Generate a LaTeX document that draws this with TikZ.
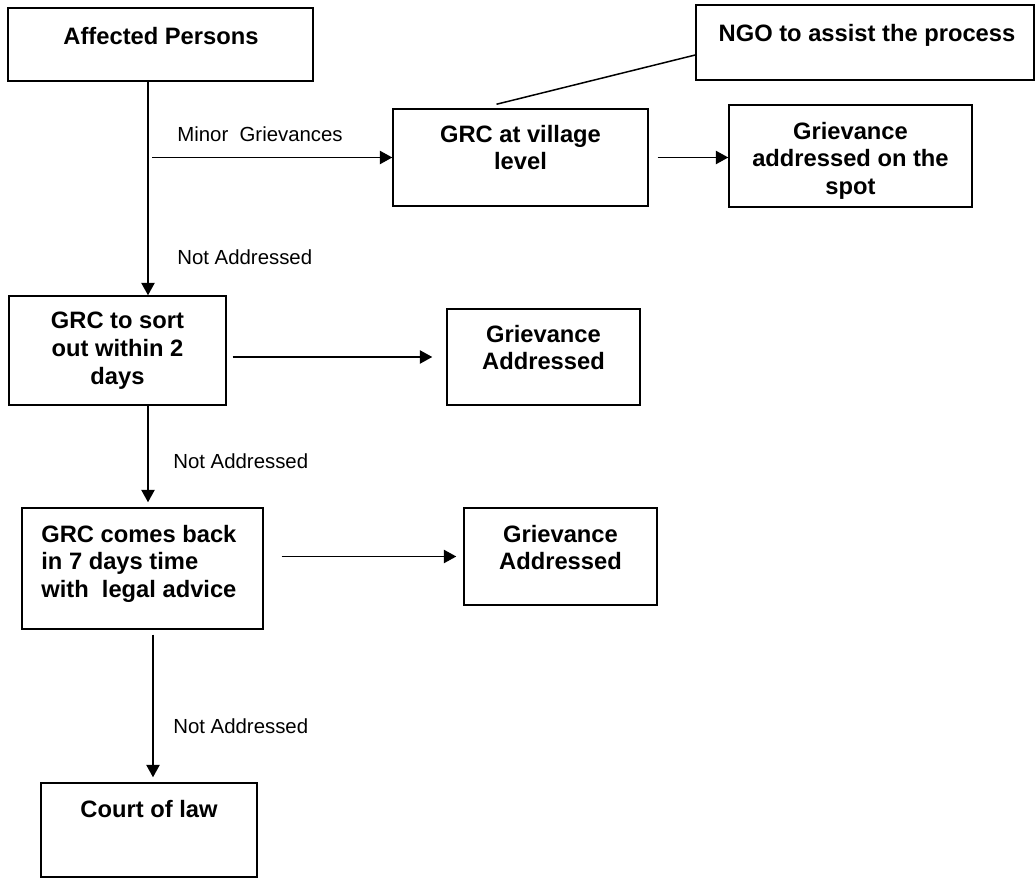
\documentclass[tikz,border=0pt]{standalone}
\usepackage{fontspec}
\setmainfont{Liberation Sans}
\usetikzlibrary{arrows.meta,calc}
\def\px{0.02cm}

\begin{document}
\begin{tikzpicture}[x=\px, y=-\px,
  box/.style={draw, line width=0.85pt, inner sep=0pt},
  sz/.style 2 args={minimum width=#1*\px, minimum height=#2*\px},
  boxtext/.style={font=\bfseries\fontsize{13.5}{15.9}\selectfont, align=center, inner sep=0pt, anchor=north},
  lbl/.style={font=\fontsize{11.6}{14}\selectfont, inner sep=0pt, anchor=base west},
  arr/.style={line width=0.85pt, -{Triangle[length=7pt,width=7.5pt]}},
  ln/.style={line width=0.85pt}]

\useasboundingbox (0,0) rectangle (1036,878);

% Affected Persons
\node[box, sz={305}{73}] (ap) at (160.5,44.5) {};
\node[boxtext] (ap text) at (161,26.5) {Affected Persons};

% NGO
\node[box, sz={338}{75}] (ngo) at (865,42.5) {};
\node[boxtext] (ngo text) at (867,23.5) {NGO to assist the process};

% GRC at village level
\node[box, sz={255}{97}] (grcv) at (520.5,157.5) {};
\node[boxtext] (grcv text) at (520.5,124.5) {GRC at village\\level};

% Addressed on the spot
\node[box, sz={243}{102}] (spot) at (850.5,156) {};
\node[boxtext] (spot text) at (850.5,121.5) {Grievance\\addressed on the\\spot};

% GRC within 2 days
\node[box, sz={217}{109}] (sort) at (117.5,350.5) {};
\node[boxtext] (sort text) at (117.5,311.5) {GRC to sort\\out within 2\\days};

\node[box, sz={193}{96}] (ga1) at (543.5,357) {};
\node[boxtext] (ga1 text) at (543.5,324.5) {Grievance\\Addressed};

% GRC within 7 days
\node[box, sz={241}{121}] (back) at (142.5,568.5) {};
\node[boxtext, align=left, anchor=north west] (back text) at (41,524.5) {GRC comes back\\in 7 days time\\with~ legal advice};

\node[box, sz={193}{97}] (ga2) at (560.5,556.5) {};
\node[boxtext] (ga2 text) at (560.5,524.5) {Grievance\\Addressed};

% Court
\node[box, sz={216}{94}] (court) at (149,830) {};
\node[boxtext] (court text) at (149,799.5) {Court of law};

% Connectors
\coordinate (j1) at (148,157.5);
\coordinate (minor) at (152,157.5);
\coordinate (j3) at (153,700);

\draw[arr] (ap.south -| j1) -- (sort.north -| j1);
\draw[arr] (sort.south -| j1) -- ($(back.north -| j1)+(0,-5)$);
\draw[arr] ($(back.south -| j3)+(0,5)$) -- ($(court.north -| j3)+(0,-5)$);
\draw[arr] (minor) -- (grcv.west);
\draw[arr] ($(grcv.east)+(9,0)$) -- (spot.west |- grcv.east);
\draw[ln] ($(grcv.north)+(-24,-4)$) -- ($(ngo.west)+(0,12.5)$);
\draw[arr] ($(sort.east |- ga1.west)+(6,0)$) -- ($(ga1.west)+(-14,0)$);
\draw[arr] ($(back.east |- ga2.west)+(18,0)$) -- ($(ga2.west)+(-7,0)$);

% Labels
\node[lbl] (minor lbl) at (177,142) {Minor~ Grievances};
\node[lbl] (na1) at (177,265) {Not Addressed};
\node[lbl] (na2) at (173,469) {Not Addressed};
\node[lbl] (na3) at (173,734) {Not Addressed};

\end{tikzpicture}
\end{document}
